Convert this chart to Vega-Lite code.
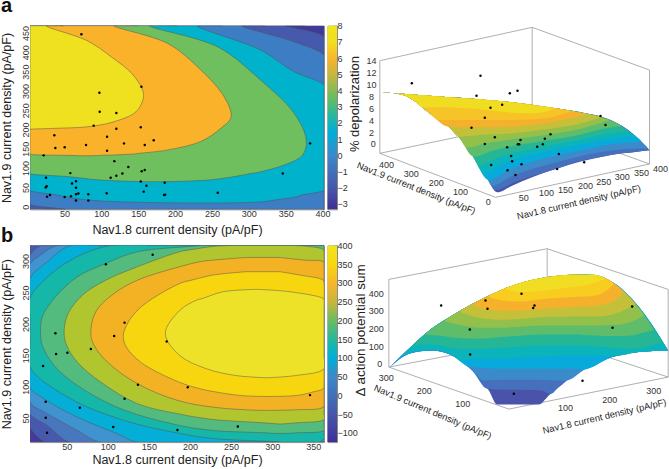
{"$schema":"https://vega.github.io/schema/vega-lite/v6.json","autosize":{"type":"none"},"padding":{"left":30,"top":25.7,"right":639,"bottom":443.3},"background":"white","bounds":"flush","align":"each","columns":3,"spacing":{"row":35.7,"column":3.5},"resolve":{"scale":{"color":"independent"}},"config":{"font":"Liberation Sans","view":{"stroke":"#8a8a8a"},"axis":{"grid":false,"domain":false,"tickColor":"#777","tickSize":-3,"labelFontSize":9,"labelColor":"#333","labelPadding":3,"labelOverlap":false,"titleFontSize":12.5,"titleFontWeight":"normal","titleColor":"#222"},"title":{"font":"Liberation Sans","fontSize":20,"fontWeight":"bold","color":"#111","anchor":"start","frame":"group"}},
"datasets":{
"contourA":[
{"b":"b00","y":-30,"x0":-20,"x1":430},{"b":"b00","y":500,"x0":-20,"x1":430},
{"b":"b01","y":-30,"x0":-20,"x1":430},{"b":"b01","y":410,"x0":-20,"x1":430},{"b":"b01","y":440,"x0":-20,"x1":402},{"b":"b01","y":469,"x0":-20,"x1":377},{"b":"b01","y":500,"x0":-20,"x1":350},
{"b":"b02","y":-20,"x0":50,"x1":430},{"b":"b02","y":-7,"x0":22,"x1":430},{"b":"b02","y":6,"x0":3.3,"x1":430},{"b":"b02","y":10,"x0":-20,"x1":430},{"b":"b02","y":376,"x0":-20,"x1":420},{"b":"b02","y":393,"x0":-20,"x1":402},{"b":"b02","y":427,"x0":-20,"x1":362},{"b":"b02","y":469,"x0":-20,"x1":323},{"b":"b02","y":500,"x0":-20,"x1":290},
{"b":"b03","y":9.5,"x0":225,"x1":235},{"b":"b03","y":10,"x0":190,"x1":280},{"b":"b03","y":13,"x0":120,"x1":320},{"b":"b03","y":17,"x0":85,"x1":335},{"b":"b03","y":26,"x0":50,"x1":365},{"b":"b03","y":30,"x0":42,"x1":371},{"b":"b03","y":43,"x0":3.3,"x1":402},{"b":"b03","y":50,"x0":-20,"x1":430},{"b":"b03","y":298,"x0":-20,"x1":416},{"b":"b03","y":315,"x0":-20,"x1":402},{"b":"b03","y":350,"x0":-20,"x1":361},{"b":"b03","y":406,"x0":-20,"x1":316},{"b":"b03","y":469,"x0":-20,"x1":264},{"b":"b03","y":500,"x0":-20,"x1":230},
{"b":"b04","y":64.5,"x0":165,"x1":170},{"b":"b04","y":69,"x0":99,"x1":245},{"b":"b04","y":78,"x0":54,"x1":280},{"b":"b04","y":86,"x0":3.3,"x1":303},{"b":"b04","y":88,"x0":-20,"x1":310},{"b":"b04","y":108,"x0":-20,"x1":348},{"b":"b04","y":134,"x0":-20,"x1":373},{"b":"b04","y":173,"x0":-20,"x1":378},{"b":"b04","y":242,"x0":-20,"x1":361.5},{"b":"b04","y":328,"x0":-20,"x1":316},{"b":"b04","y":414,"x0":-20,"x1":258},{"b":"b04","y":469,"x0":-20,"x1":203},{"b":"b04","y":500,"x0":-20,"x1":165},
{"b":"b05","y":132,"x0":70,"x1":85},{"b":"b05","y":133,"x0":55,"x1":100},{"b":"b05","y":136.5,"x0":3.3,"x1":144},{"b":"b05","y":138,"x0":-20,"x1":150},{"b":"b05","y":147,"x0":-20,"x1":190},{"b":"b05","y":169,"x0":-20,"x1":235},{"b":"b05","y":203,"x0":-20,"x1":262},{"b":"b05","y":233,"x0":-20,"x1":276},{"b":"b05","y":285,"x0":-20,"x1":266.5},{"b":"b05","y":354,"x0":-20,"x1":235},{"b":"b05","y":423,"x0":-20,"x1":190},{"b":"b05","y":469,"x0":-20,"x1":149},{"b":"b05","y":500,"x0":-20,"x1":117},
{"b":"b06","y":201,"x0":-20,"x1":-15},{"b":"b06","y":203,"x0":-20,"x1":36},{"b":"b06","y":207,"x0":-20,"x1":81},{"b":"b06","y":220,"x0":-20,"x1":117},{"b":"b06","y":246,"x0":-20,"x1":147},{"b":"b06","y":281,"x0":-20,"x1":157},{"b":"b06","y":302,"x0":-20,"x1":156},{"b":"b06","y":344,"x0":-20,"x1":142},{"b":"b06","y":389,"x0":-20,"x1":113},{"b":"b06","y":430,"x0":-20,"x1":81},{"b":"b06","y":469,"x0":-20,"x1":49},{"b":"b06","y":500,"x0":-20,"x1":25}],
"dotsA":[{"x":73,"y":447},{"x":97.4,"y":295},{"x":97.8,"y":246},{"x":120.4,"y":243},{"x":154.4,"y":311},{"x":89.7,"y":210},{"x":120.4,"y":202},{"x":153.5,"y":206},{"x":36.3,"y":185},{"x":107.8,"y":181},{"x":37.7,"y":152},{"x":50.3,"y":154},{"x":79.3,"y":160},{"x":130.8,"y":164},{"x":158.9,"y":160},{"x":171.1,"y":172},{"x":107.8,"y":145},{"x":21.8,"y":133},{"x":117.7,"y":118},{"x":136.7,"y":103},{"x":58,"y":87},{"x":112.7,"y":75},{"x":120.4,"y":80},{"x":128.6,"y":86},{"x":154.8,"y":92},{"x":158.9,"y":95},{"x":25,"y":75},{"x":60.3,"y":60},{"x":65.7,"y":66},{"x":25.9,"y":53},{"x":24.6,"y":50},{"x":65.7,"y":49},{"x":153.5,"y":65},{"x":161.2,"y":54},{"x":186,"y":62},{"x":30.4,"y":30},{"x":26.4,"y":26},{"x":50.3,"y":25},{"x":58.9,"y":27},{"x":65.7,"y":32},{"x":68.9,"y":34},{"x":82.4,"y":32},{"x":107.3,"y":35},{"x":157.5,"y":39},{"x":185.1,"y":30},{"x":186.5,"y":31},{"x":257.9,"y":36},{"x":65.7,"y":16},{"x":82.4,"y":16},{"x":346.1,"y":86},{"x":383.2,"y":164}],
"contourB":[
{"b":"b00","y":-10,"x0":-30,"x1":500},{"b":"b00","y":360,"x0":-30,"x1":500},
{"b":"b01","y":-1.5,"x0":41.1,"x1":500},{"b":"b01","y":12.9,"x0":22.5,"x1":500},{"b":"b01","y":35.6,"x0":5.4,"x1":500},{"b":"b01","y":46.3,"x0":-20,"x1":500},{"b":"b01","y":360,"x0":-20,"x1":500},
{"b":"b02","y":-1.5,"x0":71.6,"x1":500},{"b":"b02","y":12.9,"x0":51,"x1":500},{"b":"b02","y":38.3,"x0":26.5,"x1":500},{"b":"b02","y":57,"x0":5.4,"x1":500},{"b":"b02","y":86,"x0":-20,"x1":500},{"b":"b02","y":285,"x0":-20,"x1":500},{"b":"b02","y":309,"x0":5.4,"x1":500},{"b":"b02","y":323.9,"x0":18,"x1":500},{"b":"b02","y":332.9,"x0":29,"x1":500},
{"b":"b03","y":-1.5,"x0":108.2,"x1":500},{"b":"b03","y":12.9,"x0":87.5,"x1":500},{"b":"b03","y":30.4,"x0":63,"x1":500},{"b":"b03","y":57,"x0":26.5,"x1":500},{"b":"b03","y":75.4,"x0":5.4,"x1":500},{"b":"b03","y":110,"x0":-20,"x1":500},{"b":"b03","y":261.3,"x0":-20,"x1":500},{"b":"b03","y":295.2,"x0":5.4,"x1":500},{"b":"b03","y":309.5,"x0":18.3,"x1":500},{"b":"b03","y":323.9,"x0":36.6,"x1":500},{"b":"b03","y":345.7,"x0":77.7,"x1":500},
{"b":"b04","y":-1.5,"x0":157,"x1":500},{"b":"b04","y":12.9,"x0":132.2,"x1":500},{"b":"b04","y":25,"x0":111.9,"x1":500},{"b":"b04","y":51.5,"x0":63,"x1":500},{"b":"b04","y":80.8,"x0":22.5,"x1":500},{"b":"b04","y":99.3,"x0":5.4,"x1":500},{"b":"b04","y":141.8,"x0":-20,"x1":500},{"b":"b04","y":237.4,"x0":-20,"x1":500},{"b":"b04","y":272.4,"x0":5.4,"x1":500},{"b":"b04","y":299,"x0":26.5,"x1":500},{"b":"b04","y":323.9,"x0":53,"x1":500},{"b":"b04","y":348.8,"x0":90,"x1":500},
{"b":"b05","y":4.9,"x0":309.4,"x1":358},{"b":"b05","y":11.7,"x0":248.4,"x1":420},{"b":"b05","y":17.6,"x0":227.7,"x1":500},{"b":"b05","y":25.6,"x0":187.5,"x1":500},{"b":"b05","y":46.3,"x0":120,"x1":500},{"b":"b05","y":80.8,"x0":55,"x1":500},{"b":"b05","y":131.2,"x0":5.4,"x1":500},{"b":"b05","y":165.7,"x0":-13.7,"x1":500},{"b":"b05","y":205.5,"x0":-13.7,"x1":500},{"b":"b05","y":240.6,"x0":5.4,"x1":500},{"b":"b05","y":269.7,"x0":22.5,"x1":500},{"b":"b05","y":301.5,"x0":55,"x1":500},{"b":"b05","y":323.9,"x0":99.7,"x1":500},{"b":"b05","y":348.8,"x0":187.5,"x1":500},
{"b":"b06","y":25.6,"x0":303.3,"x1":315.5},{"b":"b06","y":26.7,"x0":288.7,"x1":330},{"b":"b06","y":30.4,"x0":227.7,"x1":389},{"b":"b06","y":38.3,"x0":187.5,"x1":425},{"b":"b06","y":64.9,"x0":115.9,"x1":430},{"b":"b06","y":102,"x0":63,"x1":430},{"b":"b06","y":133.9,"x0":34.7,"x1":430},{"b":"b06","y":165.7,"x0":20.4,"x1":430},{"b":"b06","y":184.8,"x0":18.3,"x1":430},{"b":"b06","y":211.4,"x0":20.4,"x1":430},{"b":"b06","y":243.3,"x0":36.6,"x1":430},{"b":"b06","y":275.1,"x0":63,"x1":430},{"b":"b06","y":296.3,"x0":97.6,"x1":430},{"b":"b06","y":314.9,"x0":136.2,"x1":430},{"b":"b06","y":325,"x0":146.9,"x1":431},{"b":"b06","y":340.9,"x0":211.9,"x1":389},
{"b":"b07","y":40.7,"x0":307,"x1":312},{"b":"b07","y":42.6,"x0":288.7,"x1":330},{"b":"b07","y":47.9,"x0":227.7,"x1":370.4},{"b":"b07","y":57,"x0":185,"x1":389},{"b":"b07","y":72.9,"x0":136.2,"x1":405},{"b":"b07","y":107.3,"x0":91.5,"x1":413},{"b":"b07","y":139.1,"x0":63,"x1":413},{"b":"b07","y":165.7,"x0":50,"x1":413},{"b":"b07","y":184.8,"x0":46.9,"x1":413},{"b":"b07","y":214,"x0":50.9,"x1":413},{"b":"b07","y":245.8,"x0":69.2,"x1":413},{"b":"b07","y":269.7,"x0":97.6,"x1":413},{"b":"b07","y":291,"x0":136.2,"x1":413},{"b":"b07","y":314.9,"x0":187.5,"x1":376.5},{"b":"b07","y":318.6,"x0":203.3,"x1":362},{"b":"b07","y":323.9,"x0":232.2,"x1":340},{"b":"b07","y":329.7,"x0":272.8,"x1":309.4},
{"b":"b08","y":62.2,"x0":288.7,"x1":290},{"b":"b08","y":63.3,"x0":266.7,"x1":330},{"b":"b08","y":67.5,"x0":227.7,"x1":362},{"b":"b08","y":78.1,"x0":185,"x1":389},{"b":"b08","y":104.7,"x0":136.2,"x1":419},{"b":"b08","y":139.1,"x0":99.7,"x1":419},{"b":"b08","y":165.7,"x0":83.4,"x1":419},{"b":"b08","y":184.8,"x0":79.3,"x1":419},{"b":"b08","y":219.4,"x0":85.4,"x1":419},{"b":"b08","y":248.5,"x0":107.8,"x1":419},{"b":"b08","y":269.7,"x0":136.2,"x1":419},{"b":"b08","y":291,"x0":187.5,"x1":389},{"b":"b08","y":299,"x0":212,"x1":362},{"b":"b08","y":301.5,"x0":227.7,"x1":340},{"b":"b08","y":305.8,"x0":268,"x1":309.4},
{"b":"b09","y":84.5,"x0":288.7,"x1":290},{"b":"b09","y":86.1,"x0":260.6,"x1":330},{"b":"b09","y":92.5,"x0":227.7,"x1":352},{"b":"b09","y":96.8,"x0":212,"x1":362},{"b":"b09","y":107.6,"x0":186.2,"x1":376.5},{"b":"b09","y":139.1,"x0":140,"x1":407},{"b":"b09","y":165.7,"x0":121.6,"x1":413},{"b":"b09","y":184.8,"x0":119.2,"x1":413},{"b":"b09","y":221.9,"x0":136.2,"x1":407},{"b":"b09","y":264.4,"x0":187.5,"x1":376.5},{"b":"b09","y":269.7,"x0":202,"x1":362},{"b":"b09","y":277.7,"x0":227.7,"x1":333.8},{"b":"b09","y":283.1,"x0":268,"x1":309.4},
{"b":"b10","y":114.3,"x0":292,"x1":294},{"b":"b10","y":118,"x0":254.5,"x1":330},{"b":"b10","y":128.6,"x0":220,"x1":368},{"b":"b10","y":149.8,"x0":187.5,"x1":389},{"b":"b10","y":184.8,"x0":170,"x1":395},{"b":"b10","y":221.4,"x0":187.5,"x1":389},{"b":"b10","y":237.9,"x0":208,"x1":370},{"b":"b10","y":240.6,"x0":215.5,"x1":362},{"b":"b10","y":251.2,"x0":240,"x1":321.6},{"b":"b10","y":255,"x0":280,"x1":281.4}],
"dotsB":[{"x":154.6,"y":310},{"x":97.7,"y":295},{"x":120.4,"y":202},{"x":36.3,"y":185},{"x":107.8,"y":180.6},{"x":37.1,"y":152},{"x":50.9,"y":154},{"x":171.7,"y":172},{"x":79.4,"y":160},{"x":21.3,"y":133},{"x":136.7,"y":103},{"x":197.3,"y":99},{"x":346,"y":86.6},{"x":120.4,"y":80.8},{"x":24.5,"y":76},{"x":66,"y":66.5},{"x":24.5,"y":50.5},{"x":106.6,"y":35.7},{"x":184.7,"y":31},{"x":258.2,"y":36.7},{"x":26.1,"y":26.6}],
"surfA":[
{"b":"s00","h":108,"t":217,"l":217},{"b":"s00","h":170,"t":221,"l":224},{"b":"s00","h":210,"t":224,"l":245},{"b":"s00","h":250,"t":227,"l":278},{"b":"s00","h":310,"t":231.5,"l":320},{"b":"s00","h":340,"t":233,"l":350},{"b":"s00","h":380,"t":236,"l":405},{"b":"s00","h":420,"t":240,"l":465},{"b":"s00","h":455,"t":243,"l":517},{"b":"s00","h":500,"t":247,"l":497},{"b":"s00","h":560,"t":256,"l":472},{"b":"s00","h":620,"t":263,"l":450},{"b":"s00","h":700,"t":277,"l":426},{"b":"s00","h":770,"t":291,"l":410},{"b":"s00","h":830,"t":318,"l":400},{"b":"s00","h":870,"t":348,"l":396},{"b":"s00","h":912,"t":391,"l":391},
{"b":"s01","h":108,"t":217,"l":217},{"b":"s01","h":170,"t":221,"l":224},{"b":"s01","h":210,"t":224,"l":245},{"b":"s01","h":250,"t":227,"l":278},{"b":"s01","h":310,"t":231.5,"l":320},{"b":"s01","h":340,"t":233,"l":350},{"b":"s01","h":380,"t":236,"l":405},{"b":"s01","h":420,"t":240,"l":465},{"b":"s01","h":450,"t":243,"l":510},{"b":"s01","h":510,"t":248,"l":485},{"b":"s01","h":570,"t":257,"l":465},{"b":"s01","h":640,"t":266.5,"l":445},{"b":"s01","h":700,"t":277,"l":424},{"b":"s01","h":770,"t":291,"l":410},{"b":"s01","h":830,"t":318,"l":400},{"b":"s01","h":870,"t":348,"l":396},{"b":"s01","h":912,"t":391,"l":391},
{"b":"s02","h":108,"t":217,"l":217},{"b":"s02","h":170,"t":221,"l":224},{"b":"s02","h":210,"t":224,"l":245},{"b":"s02","h":250,"t":227,"l":278},{"b":"s02","h":310,"t":231.5,"l":320},{"b":"s02","h":340,"t":233,"l":350},{"b":"s02","h":380,"t":236,"l":405},{"b":"s02","h":420,"t":240,"l":465},{"b":"s02","h":440,"t":242,"l":497},{"b":"s02","h":500,"t":247,"l":468},{"b":"s02","h":560,"t":256,"l":447},{"b":"s02","h":640,"t":266.5,"l":425},{"b":"s02","h":720,"t":280,"l":405},{"b":"s02","h":810,"t":308,"l":390},{"b":"s02","h":905,"t":381,"l":385},
{"b":"s03","h":108,"t":217,"l":217},{"b":"s03","h":170,"t":221,"l":224},{"b":"s03","h":210,"t":224,"l":245},{"b":"s03","h":250,"t":227,"l":278},{"b":"s03","h":310,"t":231.5,"l":320},{"b":"s03","h":340,"t":233,"l":350},{"b":"s03","h":380,"t":236,"l":405},{"b":"s03","h":430,"t":241,"l":480},{"b":"s03","h":490,"t":246,"l":450},{"b":"s03","h":560,"t":256,"l":425},{"b":"s03","h":640,"t":266.5,"l":405},{"b":"s03","h":720,"t":280,"l":388},{"b":"s03","h":800,"t":304,"l":372},{"b":"s03","h":885,"t":360,"l":365},
{"b":"s04","h":108,"t":217,"l":217},{"b":"s04","h":170,"t":221,"l":224},{"b":"s04","h":210,"t":224,"l":245},{"b":"s04","h":250,"t":227,"l":278},{"b":"s04","h":310,"t":231.5,"l":320},{"b":"s04","h":340,"t":233,"l":350},{"b":"s04","h":380,"t":236,"l":405},{"b":"s04","h":415,"t":239.5,"l":458},{"b":"s04","h":470,"t":244,"l":432},{"b":"s04","h":530,"t":251,"l":412},{"b":"s04","h":600,"t":260.5,"l":395},{"b":"s04","h":700,"t":277,"l":375},{"b":"s04","h":790,"t":300,"l":358},{"b":"s04","h":870,"t":348,"l":350},
{"b":"s05","h":108,"t":217,"l":217},{"b":"s05","h":170,"t":221,"l":224},{"b":"s05","h":210,"t":224,"l":245},{"b":"s05","h":250,"t":227,"l":278},{"b":"s05","h":310,"t":231.5,"l":320},{"b":"s05","h":340,"t":233,"l":350},{"b":"s05","h":380,"t":236,"l":405},{"b":"s05","h":400,"t":238,"l":435},{"b":"s05","h":460,"t":243.5,"l":412},{"b":"s05","h":520,"t":249.5,"l":395},{"b":"s05","h":600,"t":260.5,"l":378},{"b":"s05","h":700,"t":277,"l":360},{"b":"s05","h":790,"t":300,"l":340},{"b":"s05","h":850,"t":333,"l":334},
{"b":"s06","h":108,"t":217,"l":217},{"b":"s06","h":170,"t":221,"l":224},{"b":"s06","h":210,"t":224,"l":245},{"b":"s06","h":250,"t":227,"l":278},{"b":"s06","h":310,"t":231.5,"l":320},{"b":"s06","h":340,"t":233,"l":350},{"b":"s06","h":385,"t":236.5,"l":410},{"b":"s06","h":440,"t":242,"l":392},{"b":"s06","h":500,"t":247,"l":378},{"b":"s06","h":600,"t":260.5,"l":362},{"b":"s06","h":700,"t":277,"l":345},{"b":"s06","h":780,"t":295,"l":325},{"b":"s06","h":830,"t":318,"l":319},
{"b":"s07","h":108,"t":217,"l":217},{"b":"s07","h":170,"t":221,"l":224},{"b":"s07","h":210,"t":224,"l":245},{"b":"s07","h":250,"t":227,"l":278},{"b":"s07","h":310,"t":231.5,"l":320},{"b":"s07","h":340,"t":233,"l":350},{"b":"s07","h":365,"t":235,"l":383},{"b":"s07","h":420,"t":240,"l":370},{"b":"s07","h":500,"t":247,"l":358},{"b":"s07","h":600,"t":260.5,"l":345},{"b":"s07","h":700,"t":277,"l":328},{"b":"s07","h":790,"t":300,"l":301},
{"b":"s08","h":108,"t":217,"l":217},{"b":"s08","h":170,"t":221,"l":224},{"b":"s08","h":210,"t":224,"l":245},{"b":"s08","h":250,"t":227,"l":278},{"b":"s08","h":310,"t":231.5,"l":320},{"b":"s08","h":340,"t":233,"l":350},{"b":"s08","h":400,"t":238,"l":345},{"b":"s08","h":500,"t":247,"l":340},{"b":"s08","h":600,"t":260.5,"l":328},{"b":"s08","h":700,"t":277,"l":312},{"b":"s08","h":770,"t":291,"l":292},
{"b":"s09","h":108,"t":217,"l":217},{"b":"s09","h":170,"t":221,"l":224},{"b":"s09","h":210,"t":224,"l":245},{"b":"s09","h":250,"t":227,"l":278},{"b":"s09","h":310,"t":231.5,"l":320},{"b":"s09","h":400,"t":238,"l":322},{"b":"s09","h":500,"t":247,"l":320},{"b":"s09","h":600,"t":260.5,"l":310},{"b":"s09","h":680,"t":273.5,"l":295},{"b":"s09","h":730,"t":282,"l":283},
{"b":"s10","h":108,"t":217,"l":217},{"b":"s10","h":170,"t":221,"l":224},{"b":"s10","h":210,"t":224,"l":245},{"b":"s10","h":250,"t":227,"l":278},{"b":"s10","h":280,"t":229.5,"l":300},{"b":"s10","h":400,"t":238,"l":300},{"b":"s10","h":500,"t":247,"l":300},{"b":"s10","h":600,"t":260.5,"l":295},{"b":"s10","h":660,"t":270,"l":280},{"b":"s10","h":680,"t":273.5,"l":274},
{"b":"s11","h":108,"t":217,"l":217},{"b":"s11","h":170,"t":221,"l":224},{"b":"s11","h":210,"t":224,"l":245},{"b":"s11","h":230,"t":225,"l":262},{"b":"s11","h":300,"t":231,"l":262},{"b":"s11","h":400,"t":238,"l":268},{"b":"s11","h":500,"t":247,"l":278},{"b":"s11","h":560,"t":256,"l":280},{"b":"s11","h":610,"t":262,"l":272},{"b":"s11","h":625,"t":264,"l":265}],
"surfB":[
{"b":"s00","h":133,"t":380,"l":380},{"b":"s00","h":190,"t":325,"l":340},{"b":"s00","h":225,"t":292,"l":332},{"b":"s00","h":260,"t":263.5,"l":330},{"b":"s00","h":290,"t":244,"l":335},{"b":"s00","h":320,"t":225,"l":345},{"b":"s00","h":350,"t":207,"l":365},{"b":"s00","h":380,"t":191,"l":390},{"b":"s00","h":410,"t":175,"l":425},{"b":"s00","h":430,"t":165.5,"l":450},{"b":"s00","h":455,"t":154,"l":492},{"b":"s00","h":580,"t":114,"l":492},{"b":"s00","h":610,"t":109,"l":465},{"b":"s00","h":640,"t":106,"l":440},{"b":"s00","h":680,"t":103,"l":408},{"b":"s00","h":720,"t":102,"l":385},{"b":"s00","h":760,"t":107,"l":368},{"b":"s00","h":800,"t":125,"l":350},{"b":"s00","h":840,"t":158,"l":342},{"b":"s00","h":880,"t":200,"l":335},{"b":"s00","h":920,"t":260,"l":332},{"b":"s00","h":968,"t":330,"l":330},
{"b":"s01","h":133,"t":380,"l":380},{"b":"s01","h":190,"t":325,"l":340},{"b":"s01","h":260,"t":263.5,"l":330},{"b":"s01","h":320,"t":225,"l":345},{"b":"s01","h":380,"t":191,"l":390},{"b":"s01","h":425,"t":168,"l":445},{"b":"s01","h":470,"t":148,"l":448},{"b":"s01","h":530,"t":126,"l":448},{"b":"s01","h":590,"t":112.5,"l":450},{"b":"s01","h":615,"t":108.5,"l":461},{"b":"s01","h":640,"t":106,"l":440},{"b":"s01","h":680,"t":103,"l":408},{"b":"s01","h":720,"t":102,"l":385},{"b":"s01","h":800,"t":125,"l":350},{"b":"s01","h":880,"t":200,"l":335},{"b":"s01","h":968,"t":330,"l":330},
{"b":"s02","h":133,"t":380,"l":380},{"b":"s02","h":190,"t":325,"l":340},{"b":"s02","h":260,"t":263.5,"l":330},{"b":"s02","h":320,"t":225,"l":345},{"b":"s02","h":380,"t":191,"l":390},{"b":"s02","h":415,"t":172.5,"l":420},{"b":"s02","h":470,"t":148,"l":418},{"b":"s02","h":530,"t":126,"l":418},{"b":"s02","h":590,"t":112.5,"l":418},{"b":"s02","h":650,"t":105.5,"l":421},{"b":"s02","h":665,"t":104,"l":420},{"b":"s02","h":720,"t":102,"l":385},{"b":"s02","h":800,"t":125,"l":350},{"b":"s02","h":880,"t":200,"l":335},{"b":"s02","h":968,"t":330,"l":330},
{"b":"s03","h":140,"t":374,"l":375},{"b":"s03","h":190,"t":325,"l":340},{"b":"s03","h":260,"t":263.5,"l":330},{"b":"s03","h":320,"t":225,"l":345},{"b":"s03","h":370,"t":196,"l":378},{"b":"s03","h":470,"t":148,"l":385},{"b":"s03","h":530,"t":126,"l":385},{"b":"s03","h":600,"t":111,"l":385},{"b":"s03","h":680,"t":103,"l":385},{"b":"s03","h":712,"t":102,"l":388},{"b":"s03","h":800,"t":125,"l":350},{"b":"s03","h":880,"t":200,"l":335},{"b":"s03","h":968,"t":330,"l":330},
{"b":"s04","h":165,"t":348,"l":349},{"b":"s04","h":190,"t":325,"l":338},{"b":"s04","h":260,"t":263.5,"l":328},{"b":"s04","h":320,"t":225,"l":342},{"b":"s04","h":345,"t":210,"l":360},{"b":"s04","h":400,"t":180,"l":355},{"b":"s04","h":470,"t":148,"l":355},{"b":"s04","h":530,"t":126,"l":350},{"b":"s04","h":600,"t":111,"l":348},{"b":"s04","h":680,"t":103,"l":346},{"b":"s04","h":740,"t":102,"l":345},{"b":"s04","h":790,"t":120,"l":345},{"b":"s04","h":810,"t":133,"l":347},{"b":"s04","h":840,"t":158,"l":342},{"b":"s04","h":880,"t":200,"l":335},{"b":"s04","h":968,"t":330,"l":330},
{"b":"s05","h":200,"t":316,"l":318},{"b":"s05","h":230,"t":288,"l":312},{"b":"s05","h":260,"t":263.5,"l":312},{"b":"s05","h":300,"t":238,"l":318},{"b":"s05","h":340,"t":213,"l":325},{"b":"s05","h":400,"t":180,"l":325},{"b":"s05","h":470,"t":148,"l":322},{"b":"s05","h":530,"t":126,"l":318},{"b":"s05","h":600,"t":111,"l":315},{"b":"s05","h":680,"t":103,"l":315},{"b":"s05","h":750,"t":104.5,"l":318},{"b":"s05","h":810,"t":133,"l":322},{"b":"s05","h":860,"t":179,"l":325},{"b":"s05","h":900,"t":230,"l":320},{"b":"s05","h":930,"t":274,"l":312},{"b":"s05","h":950,"t":304,"l":305},
{"b":"s06","h":240,"t":279,"l":282},{"b":"s06","h":280,"t":250,"l":285},{"b":"s06","h":330,"t":219,"l":292},{"b":"s06","h":400,"t":180,"l":295},{"b":"s06","h":470,"t":148,"l":290},{"b":"s06","h":530,"t":126,"l":285},{"b":"s06","h":600,"t":111,"l":282},{"b":"s06","h":680,"t":103,"l":282},{"b":"s06","h":750,"t":104.5,"l":285},{"b":"s06","h":810,"t":133,"l":287},{"b":"s06","h":860,"t":179,"l":285},{"b":"s06","h":900,"t":230,"l":275},{"b":"s06","h":925,"t":267,"l":268},
{"b":"s07","h":300,"t":238,"l":243},{"b":"s07","h":350,"t":207,"l":255},{"b":"s07","h":400,"t":180,"l":262},{"b":"s07","h":470,"t":148,"l":262},{"b":"s07","h":530,"t":126,"l":258},{"b":"s07","h":600,"t":111,"l":255},{"b":"s07","h":680,"t":103,"l":255},{"b":"s07","h":750,"t":104.5,"l":255},{"b":"s07","h":810,"t":133,"l":253},{"b":"s07","h":860,"t":179,"l":243},{"b":"s07","h":895,"t":222,"l":225},
{"b":"s08","h":345,"t":210,"l":215},{"b":"s08","h":400,"t":180,"l":232},{"b":"s08","h":470,"t":148,"l":238},{"b":"s08","h":530,"t":126,"l":235},{"b":"s08","h":600,"t":111,"l":230},{"b":"s08","h":680,"t":103,"l":228},{"b":"s08","h":750,"t":104.5,"l":228},{"b":"s08","h":800,"t":125,"l":222},{"b":"s08","h":845,"t":163,"l":205},{"b":"s08","h":870,"t":190,"l":191},
{"b":"s09","h":385,"t":188,"l":195},{"b":"s09","h":430,"t":165.5,"l":208},{"b":"s09","h":500,"t":135,"l":212},{"b":"s09","h":560,"t":118,"l":208},{"b":"s09","h":620,"t":108,"l":203},{"b":"s09","h":680,"t":103,"l":200},{"b":"s09","h":750,"t":104.5,"l":197},{"b":"s09","h":800,"t":125,"l":185},{"b":"s09","h":830,"t":150,"l":160},{"b":"s09","h":835,"t":154,"l":155},
{"b":"s10","h":430,"t":165.5,"l":170},{"b":"s10","h":470,"t":148,"l":180},{"b":"s10","h":530,"t":126,"l":183},{"b":"s10","h":600,"t":111,"l":175},{"b":"s10","h":680,"t":103,"l":170},{"b":"s10","h":750,"t":104.5,"l":165},{"b":"s10","h":790,"t":120,"l":145},{"b":"s10","h":805,"t":129,"l":130},
{"b":"s11","h":480,"t":144,"l":146},{"b":"s11","h":530,"t":126,"l":155},{"b":"s11","h":600,"t":111,"l":150},{"b":"s11","h":680,"t":103,"l":140},{"b":"s11","h":740,"t":102,"l":130},{"b":"s11","h":780,"t":115,"l":116}]
},
"concat":[
{"title":{"text":"a","offset":13.5,"dx":-29,"dy":4},"width":294,"height":183.6,"layer":[
{"data":{"name":"contourA"},"mark":{"type":"area","orient":"horizontal","interpolate":"catmull-rom","clip":true,"stroke":"#555","strokeWidth":0.5},"encoding":{"y":{"field":"y","type":"quantitative","scale":{"domain":[-6.8,469],"nice":false,"clamp":true},"axis":{"values":[0,50,100,150,200,250,300,350,400,450],"title":"Nav1.9 current density (pA/pF)","titlePadding":8,"labelAngle":-90,"labelAlign":"center","labelBaseline":"bottom","labelOverlap":false}},"x":{"field":"x0","type":"quantitative","scale":{"domain":[3.3,402],"nice":false,"clamp":true},"axis":{"values":[50,100,150,200,250,300,350,400],"title":"Nav1.8 current density (pA/pF)","titlePadding":5,"labelOverlap":false}},"x2":{"field":"x1"},"color":{"field":"b","type":"nominal","legend":null,"scale":{"domain":["b00","b01","b02","b03","b04","b05","b06"],"range":["#40399a","#4559ad","#3d7dc3","#00b2cc","#70bf5f","#fab22b","#efe11f"]}}}},
{"data":{"name":"dotsA"},"mark":{"type":"circle","size":6,"color":"#000","opacity":1},"encoding":{"x":{"field":"x","type":"quantitative","axis":{"values":[50,100,150,200,250,300,350,400],"title":"Nav1.8 current density (pA/pF)","titlePadding":5,"labelOverlap":false}},"y":{"field":"y","type":"quantitative","axis":{"values":[0,50,100,150,200,250,300,350,400,450],"title":"Nav1.9 current density (pA/pF)","titlePadding":8,"labelAngle":-90,"labelAlign":"center","labelBaseline":"bottom","labelOverlap":false}}}}]},
{"width":9.5,"height":183.6,"data":{"values":[{"lo":-3.33,"hi":8}]},"mark":{"type":"rect","color":{"gradient":"linear","x1":0,"y1":1,"x2":0,"y2":0,"stops":[{"offset":0,"color":"#3f2f96"},{"offset":0.114,"color":"#4656aa"},{"offset":0.29,"color":"#3d88c9"},{"offset":0.42,"color":"#00aed8"},{"offset":0.505,"color":"#22b7a0"},{"offset":0.61,"color":"#6cbc60"},{"offset":0.73,"color":"#c5b63f"},{"offset":0.82,"color":"#f7b52c"},{"offset":0.91,"color":"#f1df20"},{"offset":1,"color":"#f0e420"}]}},"encoding":{"y":{"field":"lo","type":"quantitative","scale":{"domain":[-3.33,8],"nice":false},"axis":{"orient":"right","values":[-3,-2,-1,0,1,2,3,4,5,6,7,8],"title":null}},"y2":{"field":"hi"}}},
{"width":328.5,"height":183.6,"view":{"stroke":null},"encoding":{"x":{"field":"h","type":"quantitative","axis":null,"scale":{"domain":[-13.5,972],"nice":false}},"y":{"field":"v","type":"quantitative","axis":null,"scale":{"domain":[17.1,567.9],"reverse":true,"nice":false}}},"layer":[
{"data":{"values":[{"s":"a","h":103,"v":122},{"s":"a","h":103,"v":400},{"s":"b","h":103,"v":122},{"s":"b","h":560,"v":22},{"s":"c","h":560,"v":22},{"s":"c","h":560,"v":304},{"s":"d","h":560,"v":22},{"s":"d","h":912,"v":150},{"s":"e","h":912,"v":150},{"s":"e","h":912,"v":432},{"s":"f","h":103,"v":400},{"s":"f","h":450,"v":532},{"s":"g","h":450,"v":532},{"s":"g","h":912,"v":432},{"s":"i","h":103,"v":400},{"s":"i","h":560,"v":304},{"s":"j","h":912,"v":432},{"s":"j","h":560,"v":304}]},"mark":{"type":"line","color":"#9a9a9a","strokeWidth":0.8},"encoding":{"detail":{"field":"s"}}},
{"data":{"name":"surfA"},"mark":{"type":"area","interpolate":"monotone"},"encoding":{"y":{"field":"t","type":"quantitative"},"y2":{"field":"l"},"color":{"field":"b","type":"nominal","legend":null,"scale":{"domain":["s00","s01","s02","s03","s04","s05","s06","s07","s08","s09","s10","s11"],"range":["#4756aa","#4670bb","#3b8bcb","#07aadb","#0bb3bb","#25b795","#5fbc6a","#93c04b","#c4c03a","#f5b12c","#f7c428","#f0dc20"]}}}},
{"data":{"values":[{"h":199,"v":190},{"h":405,"v":167},{"h":393,"v":227},{"h":516,"v":212},{"h":493,"v":220},{"h":470,"v":254},{"h":435,"v":263},{"h":418,"v":293},{"h":765,"v":288},{"h":780,"v":315},{"h":448,"v":352},{"h":418,"v":372},{"h":615,"v":343},{"h":598,"v":356},{"h":525,"v":360},{"h":517,"v":373},{"h":521,"v":373},{"h":592,"v":373},{"h":485,"v":382},{"h":575,"v":380},{"h":497,"v":408},{"h":500,"v":424},{"h":528,"v":433},{"h":437,"v":435},{"h":640,"v":402},{"h":716,"v":427},{"h":486,"v":451},{"h":635,"v":447},{"h":510,"v":465},{"h":378,"v":323}]},"mark":{"type":"circle","size":6,"color":"#000","opacity":1}},
{"data":{"values":[{"h":78,"v":122,"t":"14"},{"h":78,"v":158,"t":"12"},{"h":78,"v":195,"t":"10"},{"h":78,"v":232,"t":"8"},{"h":78,"v":266,"t":"6"},{"h":78,"v":302,"t":"4"},{"h":78,"v":338,"t":"2"},{"h":83,"v":372,"t":"0"},{"h":123,"v":435,"t":"400"},{"h":197,"v":463,"t":"300"},{"h":272,"v":490,"t":"200"},{"h":345,"v":517,"t":"100"},{"h":428,"v":545,"t":"0"},{"h":535,"v":533,"t":"50"},{"h":603,"v":520,"t":"100"},{"h":660,"v":510,"t":"150"},{"h":720,"v":498,"t":"200"},{"h":775,"v":485,"t":"250"},{"h":830,"v":472,"t":"300"},{"h":888,"v":460,"t":"350"},{"h":945,"v":448,"t":"400"}]},"mark":{"type":"text","fontSize":9,"color":"#333"},"encoding":{"text":{"field":"t"}}},
{"data":{"values":[{"h":212,"v":505,"t":"Nav1.9 current density (pA/pF)"}]},"mark":{"type":"text","fontSize":9.3,"color":"#222","angle":21.6},"encoding":{"text":{"field":"t"}}},
{"data":{"values":[{"h":700,"v":547,"t":"Nav1.8 current density (pA/pF)"}]},"mark":{"type":"text","fontSize":9.3,"color":"#222","angle":-13},"encoding":{"text":{"field":"t"}}},
{"data":{"values":[{"h":28,"v":252,"t":"% depolarization"}]},"mark":{"type":"text","fontSize":13,"color":"#222","angle":-90},"encoding":{"text":{"field":"t"}}}
]},
{"title":{"text":"b","offset":3,"dx":-29,"dy":4},"width":294,"height":196.7,"layer":[
{"data":{"name":"contourB"},"mark":{"type":"area","orient":"horizontal","interpolate":"catmull-rom","clip":true,"stroke":"#555","strokeWidth":0.5},"encoding":{"y":{"field":"y","type":"quantitative","scale":{"domain":[11.8,325],"nice":false,"clamp":true},"axis":{"values":[50,100,150,200,250,300],"title":"Nav1.9 current density (pA/pF)","titlePadding":8,"labelAngle":-90,"labelAlign":"center","labelBaseline":"bottom","labelOverlap":false}},"x":{"field":"x0","type":"quantitative","scale":{"domain":[5.4,363],"nice":false,"clamp":true},"axis":{"values":[50,100,150,200,250,300,350],"title":"Nav1.8 current density (pA/pF)","titlePadding":2,"labelOverlap":false}},"x2":{"field":"x1"},"color":{"field":"b","type":"nominal","legend":null,"scale":{"domain":["b00","b01","b02","b03","b04","b05","b06","b07","b08","b09","b10"],"range":["#453a9c","#4659ad","#4877bf","#3f93cf","#04aed6","#14b7a8","#53bb7d","#b1c52f","#f3b124","#f8d60f","#eee229"]}}}},
{"data":{"name":"dotsB"},"mark":{"type":"circle","size":6,"color":"#000","opacity":1},"encoding":{"x":{"field":"x","type":"quantitative","axis":{"values":[50,100,150,200,250,300,350],"title":"Nav1.8 current density (pA/pF)","titlePadding":2,"labelOverlap":false}},"y":{"field":"y","type":"quantitative","axis":{"values":[50,100,150,200,250,300],"title":"Nav1.9 current density (pA/pF)","titlePadding":8,"labelAngle":-90,"labelAlign":"center","labelBaseline":"bottom","labelOverlap":false}}}}]},
{"width":9.5,"height":196.7,"data":{"values":[{"lo":-125,"hi":400}]},"mark":{"type":"rect","color":{"gradient":"linear","x1":0,"y1":1,"x2":0,"y2":0,"stops":[{"offset":0,"color":"#3f2f96"},{"offset":0.14,"color":"#4656aa"},{"offset":0.33,"color":"#3d88c9"},{"offset":0.432,"color":"#00aed8"},{"offset":0.517,"color":"#22b7a0"},{"offset":0.62,"color":"#6cbc60"},{"offset":0.71,"color":"#c5b63f"},{"offset":0.805,"color":"#f7b52c"},{"offset":0.9,"color":"#f8d60f"},{"offset":1,"color":"#f0e420"}]}},"encoding":{"y":{"field":"lo","type":"quantitative","scale":{"domain":[-125,400],"nice":false},"axis":{"orient":"right","values":[-100,-50,0,50,100,150,200,250,300,350,400],"title":null}},"y2":{"field":"hi"}}},
{"width":328.5,"height":196.7,"view":{"stroke":null},"encoding":{"x":{"field":"h","type":"quantitative","axis":null,"scale":{"domain":[-13.5,972],"nice":false}},"y":{"field":"v","type":"quantitative","axis":null,"scale":{"domain":[15,605],"reverse":true,"nice":false}}},"layer":[
{"data":{"values":[{"s":"a","h":130,"v":117},{"s":"a","h":130,"v":380},{"s":"b","h":130,"v":117},{"s":"b","h":605,"v":25},{"s":"c","h":605,"v":25},{"s":"c","h":605,"v":290},{"s":"d","h":605,"v":25},{"s":"d","h":968,"v":147},{"s":"e","h":968,"v":147},{"s":"e","h":968,"v":410},{"s":"f","h":130,"v":380},{"s":"f","h":490,"v":506},{"s":"g","h":490,"v":506},{"s":"g","h":968,"v":410},{"s":"i","h":130,"v":380},{"s":"i","h":605,"v":290},{"s":"j","h":968,"v":410},{"s":"j","h":605,"v":290}]},"mark":{"type":"line","color":"#9a9a9a","strokeWidth":0.8},"encoding":{"detail":{"field":"s"}}},
{"data":{"name":"surfB"},"mark":{"type":"area","interpolate":"monotone"},"encoding":{"y":{"field":"t","type":"quantitative"},"y2":{"field":"l"},"color":{"field":"b","type":"nominal","legend":null,"scale":{"domain":["s00","s01","s02","s03","s04","s05","s06","s07","s08","s09","s10","s11"],"range":["#4a52a9","#4670bb","#3b8bcb","#07aadb","#0bb3bb","#25b795","#5fbc6a","#93c04b","#c4c03a","#f5b12c","#f9cc20","#f1de22"]}}}},
{"data":{"values":[{"h":287,"v":195},{"h":420,"v":180},{"h":426,"v":205},{"h":528,"v":160},{"h":567,"v":195},{"h":563,"v":203},{"h":860,"v":198},{"h":373,"v":267},{"h":801,"v":262},{"h":374,"v":342},{"h":711,"v":421},{"h":505,"v":460}]},"mark":{"type":"circle","size":6,"color":"#000","opacity":1}},
{"data":{"values":[{"h":92,"v":160,"t":"400"},{"h":92,"v":213,"t":"300"},{"h":92,"v":267,"t":"200"},{"h":92,"v":320,"t":"100"},{"h":103,"v":370,"t":"0"},{"h":122,"v":412,"t":"300"},{"h":236,"v":452,"t":"200"},{"h":352,"v":492,"t":"100"},{"h":660,"v":503,"t":"100"},{"h":793,"v":478,"t":"200"},{"h":925,"v":452,"t":"300"}]},"mark":{"type":"text","fontSize":9,"color":"#333"},"encoding":{"text":{"field":"t"}}},
{"data":{"values":[{"h":262,"v":515,"t":"Nav1.9 current density (pA/pF)"}]},"mark":{"type":"text","fontSize":9.3,"color":"#222","angle":22.9},"encoding":{"text":{"field":"t"}}},
{"data":{"values":[{"h":777,"v":528,"t":"Nav1.8 current density (pA/pF)"}]},"mark":{"type":"text","fontSize":9.3,"color":"#222","angle":-13.2},"encoding":{"text":{"field":"t"}}},
{"data":{"values":[{"h":45,"v":270,"t":"Δ action potential sum"}]},"mark":{"type":"text","fontSize":13.5,"color":"#222","angle":-90},"encoding":{"text":{"field":"t"}}}
]}
]}
